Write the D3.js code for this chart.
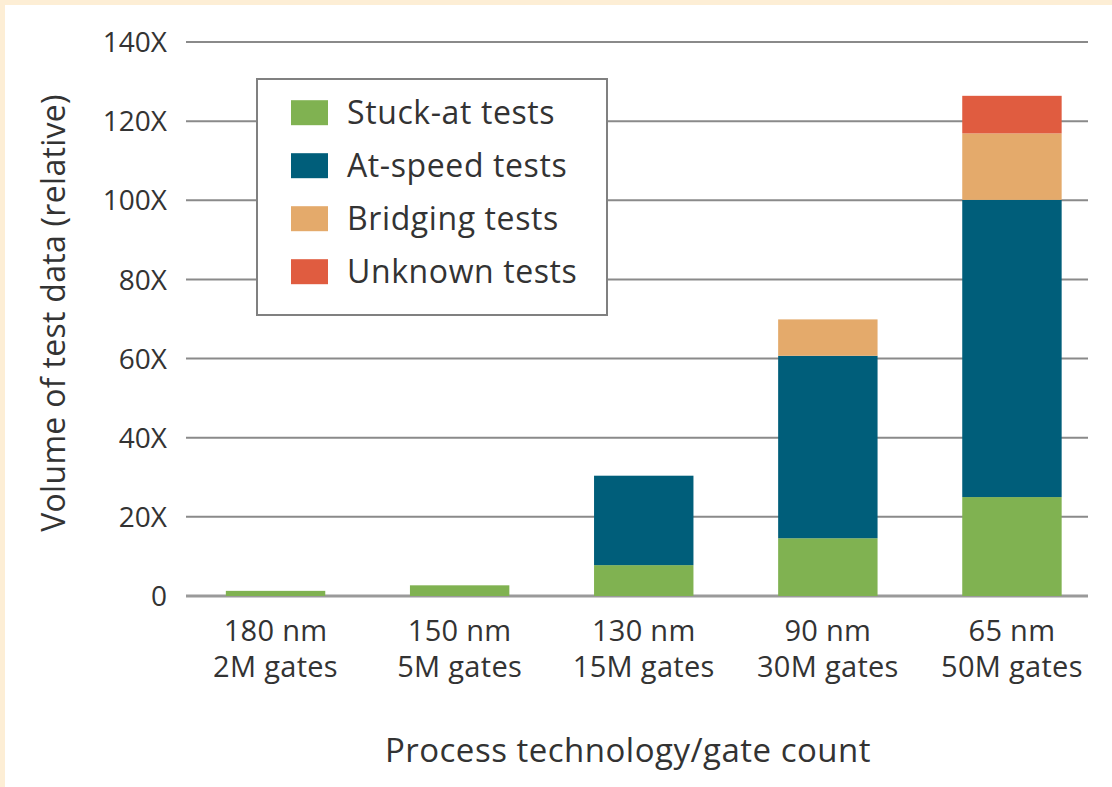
<!DOCTYPE html>
<html>
<head>
<meta charset="utf-8">
<script src="https://cdn.jsdelivr.net/npm/d3@7"></script>
<style>
  html, body { margin: 0; padding: 0; background: #fdeed5; }
  svg { display: block; }
  text { font-family: "Open Sans", Lato, sans-serif; fill: #333; }
</style>
</head>
<body>
<svg id="chart" width="1112" height="787"></svg>
<script>
const categories = ["180 nm|2M gates", "150 nm|5M gates", "130 nm|15M gates", "90 nm|30M gates", "65 nm|50M gates"];
const seriesNames = ["Stuck-at tests", "At-speed tests", "Bridging tests", "Unknown tests"];
const stuckAt  = [1.3, 2.7, 7.8, 14.6, 25.0];
const atSpeed  = [0, 0, 22.6, 46.1, 75.1];
const bridging = [0, 0, 0, 9.2, 16.8];
const unknown  = [0, 0, 0, 0, 9.5];
const yTicks = [0, 20, 40, 60, 80, 100, 120, 140];
const yTickLabels = ["0", "20X", "40X", "60X", "80X", "100X", "120X", "140X"];
const colors = ["#80b251", "#005e7a", "#e4aa6b", "#e05c40"];

const svg = d3.select("#chart");
svg.append("rect").attr("x", 5).attr("y", 5).attr("width", 1107).attr("height", 782).attr("fill", "#ffffff");

const y = d3.scaleLinear().domain([0, 140]).range([596, 42]);
const x = d3.scaleBand().domain(categories).range([183.5, 1104]).paddingInner(0.46).paddingOuter(0.23);

// gridlines
svg.append("g").selectAll("line").data(yTicks).join("line")
  .attr("x1", 186).attr("x2", 1088)
  .attr("y1", d => y(d)).attr("y2", d => y(d))
  .attr("stroke", d => d === 0 ? "#9a9a9a" : "#8a8a8a")
  .attr("stroke-width", d => d === 0 ? 3 : 2);

// tick labels
svg.append("g").selectAll("text").data(yTicks).join("text")
  .attr("x", 167).attr("y", d => y(d))
  .attr("dy", "0.36em")
  .attr("text-anchor", "end")
  .attr("font-size", 28)
  .text((d, i) => yTickLabels[i]);

// stacked data
const rows = categories.map((c, i) => ({
  cat: c,
  "Stuck-at tests": stuckAt[i],
  "At-speed tests": atSpeed[i],
  "Bridging tests": bridging[i],
  "Unknown tests": unknown[i]
}));
const stack = d3.stack().keys(seriesNames)(rows);

svg.append("g").selectAll("g").data(stack).join("g")
  .attr("fill", (d, i) => colors[i])
  .selectAll("rect").data(d => d.filter(p => p[1] - p[0] > 0)).join("rect")
  .attr("x", d => x(d.data.cat))
  .attr("width", x.bandwidth())
  .attr("y", d => y(d[1]))
  .attr("height", d => y(d[0]) - y(d[1]));

// category labels
const cl = svg.append("g").selectAll("text").data(categories).join("text")
  .attr("x", d => x(d) + x.bandwidth() / 2)
  .attr("y", 641)
  .attr("text-anchor", "middle")
  .attr("font-size", 29)
  .attr("letter-spacing", 0.3);
cl.each(function(d) {
  const parts = d.split("|");
  const t = d3.select(this);
  t.append("tspan").attr("x", x(d) + x.bandwidth() / 2).attr("dy", 0).text(parts[0]);
  t.append("tspan").attr("x", x(d) + x.bandwidth() / 2).attr("dy", 36).text(parts[1]);
});

// axis titles
svg.append("text")
  .attr("transform", "translate(53,313) rotate(-90)")
  .attr("text-anchor", "middle")
  .attr("dy", "0.36em")
  .attr("font-size", 32)
  .attr("letter-spacing", 0.3)
  .text("Volume of test data (relative)");

svg.append("text")
  .attr("x", 628).attr("y", 762)
  .attr("text-anchor", "middle")
  .attr("font-size", 33)
  .attr("letter-spacing", 0.5)
  .text("Process technology/gate count");

// legend
const lg = svg.append("g");
lg.append("rect").attr("x", 257).attr("y", 79).attr("width", 350).attr("height", 236)
  .attr("fill", "#ffffff").attr("stroke", "#808080").attr("stroke-width", 2);
const items = lg.selectAll("g").data(seriesNames).join("g")
  .attr("transform", (d, i) => `translate(0, ${112.7 + i * 53})`);
items.append("rect").attr("x", 291).attr("y", -12.5).attr("width", 37).attr("height", 25)
  .attr("fill", (d, i) => colors[i]);
items.append("text").attr("x", 347).attr("y", 0).attr("dy", "0.36em")
  .attr("font-size", 32).attr("letter-spacing", 0.6).text(d => d);
</script>
</body>
</html>
